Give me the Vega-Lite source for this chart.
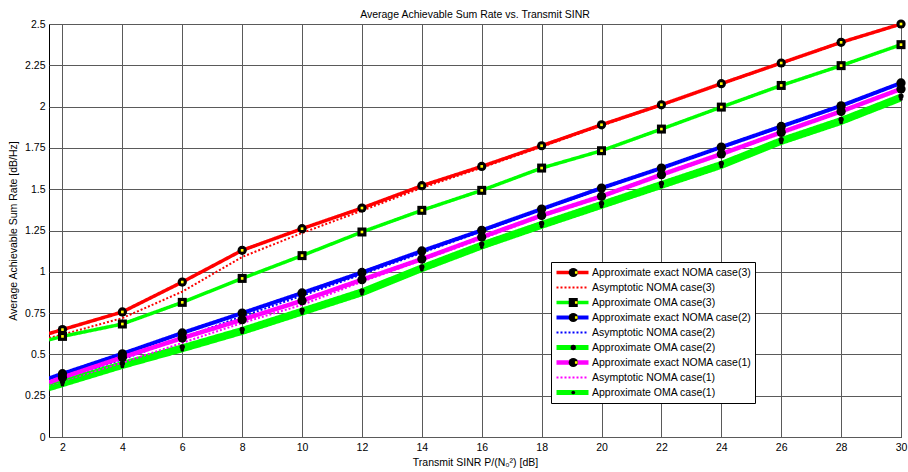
{
"$schema": "https://vega.github.io/schema/vega-lite/v6.json",
"width": 852, "height": 413,
"autosize": {"type": "none"},
"padding": {"left": 49, "top": 24, "right": 7, "bottom": 35},
"title": {"text": "Average Achievable Sum Rate vs. Transmit SINR", "fontSize": 10.5, "fontWeight": "normal", "font": "Liberation Sans", "offset": -1, "frame": "group", "color": "black"},
"datasets": {"rates": [
{"snr":1.55,"series":"Approximate exact NOMA case(3)","rate":0.626},{"snr":2,"series":"Approximate exact NOMA case(3)","rate":0.65},{"snr":4,"series":"Approximate exact NOMA case(3)","rate":0.757},{"snr":6,"series":"Approximate exact NOMA case(3)","rate":0.938},{"snr":8,"series":"Approximate exact NOMA case(3)","rate":1.13},{"snr":10,"series":"Approximate exact NOMA case(3)","rate":1.261},{"snr":12,"series":"Approximate exact NOMA case(3)","rate":1.386},{"snr":14,"series":"Approximate exact NOMA case(3)","rate":1.521},{"snr":16,"series":"Approximate exact NOMA case(3)","rate":1.638},{"snr":18,"series":"Approximate exact NOMA case(3)","rate":1.763},{"snr":20,"series":"Approximate exact NOMA case(3)","rate":1.89},{"snr":22,"series":"Approximate exact NOMA case(3)","rate":2.011},{"snr":24,"series":"Approximate exact NOMA case(3)","rate":2.139},{"snr":26,"series":"Approximate exact NOMA case(3)","rate":2.264},{"snr":28,"series":"Approximate exact NOMA case(3)","rate":2.389},{"snr":30,"series":"Approximate exact NOMA case(3)","rate":2.5},
{"snr":1.55,"series":"Asymptotic NOMA case(3)","rate":0.6},{"snr":2,"series":"Asymptotic NOMA case(3)","rate":0.62},{"snr":4,"series":"Asymptotic NOMA case(3)","rate":0.72},{"snr":6,"series":"Asymptotic NOMA case(3)","rate":0.88},{"snr":8,"series":"Asymptotic NOMA case(3)","rate":1.09},{"snr":10,"series":"Asymptotic NOMA case(3)","rate":1.235},{"snr":12,"series":"Asymptotic NOMA case(3)","rate":1.37},{"snr":14,"series":"Asymptotic NOMA case(3)","rate":1.508},{"snr":16,"series":"Asymptotic NOMA case(3)","rate":1.63},{"snr":18,"series":"Asymptotic NOMA case(3)","rate":1.757},{"snr":20,"series":"Asymptotic NOMA case(3)","rate":1.885},{"snr":22,"series":"Asymptotic NOMA case(3)","rate":2.008},{"snr":24,"series":"Asymptotic NOMA case(3)","rate":2.136},{"snr":26,"series":"Asymptotic NOMA case(3)","rate":2.262},{"snr":28,"series":"Asymptotic NOMA case(3)","rate":2.387},{"snr":30,"series":"Asymptotic NOMA case(3)","rate":2.5},
{"snr":1.55,"series":"Approximate OMA case(3)","rate":0.588},{"snr":2,"series":"Approximate OMA case(3)","rate":0.609},{"snr":4,"series":"Approximate OMA case(3)","rate":0.684},{"snr":6,"series":"Approximate OMA case(3)","rate":0.815},{"snr":8,"series":"Approximate OMA case(3)","rate":0.96},{"snr":10,"series":"Approximate OMA case(3)","rate":1.098},{"snr":12,"series":"Approximate OMA case(3)","rate":1.241},{"snr":14,"series":"Approximate OMA case(3)","rate":1.372},{"snr":16,"series":"Approximate OMA case(3)","rate":1.493},{"snr":18,"series":"Approximate OMA case(3)","rate":1.628},{"snr":20,"series":"Approximate OMA case(3)","rate":1.733},{"snr":22,"series":"Approximate OMA case(3)","rate":1.864},{"snr":24,"series":"Approximate OMA case(3)","rate":1.997},{"snr":26,"series":"Approximate OMA case(3)","rate":2.128},{"snr":28,"series":"Approximate OMA case(3)","rate":2.248},{"snr":30,"series":"Approximate OMA case(3)","rate":2.375},
{"snr":1.55,"series":"Approximate exact NOMA case(2)","rate":0.355},{"snr":2,"series":"Approximate exact NOMA case(2)","rate":0.383},{"snr":4,"series":"Approximate exact NOMA case(2)","rate":0.504},{"snr":6,"series":"Approximate exact NOMA case(2)","rate":0.63},{"snr":8,"series":"Approximate exact NOMA case(2)","rate":0.75},{"snr":10,"series":"Approximate exact NOMA case(2)","rate":0.872},{"snr":12,"series":"Approximate exact NOMA case(2)","rate":0.996},{"snr":14,"series":"Approximate exact NOMA case(2)","rate":1.126},{"snr":16,"series":"Approximate exact NOMA case(2)","rate":1.251},{"snr":18,"series":"Approximate exact NOMA case(2)","rate":1.38},{"snr":20,"series":"Approximate exact NOMA case(2)","rate":1.507},{"snr":22,"series":"Approximate exact NOMA case(2)","rate":1.628},{"snr":24,"series":"Approximate exact NOMA case(2)","rate":1.755},{"snr":26,"series":"Approximate exact NOMA case(2)","rate":1.88},{"snr":28,"series":"Approximate exact NOMA case(2)","rate":2.005},{"snr":30,"series":"Approximate exact NOMA case(2)","rate":2.143},
{"snr":1.55,"series":"Asymptotic NOMA case(2)","rate":0.323},{"snr":2,"series":"Asymptotic NOMA case(2)","rate":0.35},{"snr":4,"series":"Asymptotic NOMA case(2)","rate":0.47},{"snr":6,"series":"Asymptotic NOMA case(2)","rate":0.6},{"snr":8,"series":"Asymptotic NOMA case(2)","rate":0.73},{"snr":10,"series":"Asymptotic NOMA case(2)","rate":0.855},{"snr":12,"series":"Asymptotic NOMA case(2)","rate":0.985},{"snr":14,"series":"Asymptotic NOMA case(2)","rate":1.115},{"snr":16,"series":"Asymptotic NOMA case(2)","rate":1.245},{"snr":18,"series":"Asymptotic NOMA case(2)","rate":1.375},{"snr":20,"series":"Asymptotic NOMA case(2)","rate":1.503},{"snr":22,"series":"Asymptotic NOMA case(2)","rate":1.627},{"snr":24,"series":"Asymptotic NOMA case(2)","rate":1.753},{"snr":26,"series":"Asymptotic NOMA case(2)","rate":1.878},{"snr":28,"series":"Asymptotic NOMA case(2)","rate":2.004},{"snr":30,"series":"Asymptotic NOMA case(2)","rate":2.14},
{"snr":1.55,"series":"Approximate OMA case(2)","rate":0.31},{"snr":2,"series":"Approximate OMA case(2)","rate":0.335},{"snr":4,"series":"Approximate OMA case(2)","rate":0.445},{"snr":6,"series":"Approximate OMA case(2)","rate":0.546},{"snr":8,"series":"Approximate OMA case(2)","rate":0.651},{"snr":10,"series":"Approximate OMA case(2)","rate":0.768},{"snr":12,"series":"Approximate OMA case(2)","rate":0.885},{"snr":14,"series":"Approximate OMA case(2)","rate":1.03},{"snr":16,"series":"Approximate OMA case(2)","rate":1.168},{"snr":18,"series":"Approximate OMA case(2)","rate":1.293},{"snr":20,"series":"Approximate OMA case(2)","rate":1.414},{"snr":22,"series":"Approximate OMA case(2)","rate":1.535},{"snr":24,"series":"Approximate OMA case(2)","rate":1.656},{"snr":26,"series":"Approximate OMA case(2)","rate":1.8},{"snr":28,"series":"Approximate OMA case(2)","rate":1.922},{"snr":30,"series":"Approximate OMA case(2)","rate":2.064},
{"snr":1.55,"series":"Approximate exact NOMA case(1)","rate":0.33},{"snr":2,"series":"Approximate exact NOMA case(1)","rate":0.36},{"snr":4,"series":"Approximate exact NOMA case(1)","rate":0.482},{"snr":6,"series":"Approximate exact NOMA case(1)","rate":0.599},{"snr":8,"series":"Approximate exact NOMA case(1)","rate":0.71},{"snr":10,"series":"Approximate exact NOMA case(1)","rate":0.825},{"snr":12,"series":"Approximate exact NOMA case(1)","rate":0.952},{"snr":14,"series":"Approximate exact NOMA case(1)","rate":1.077},{"snr":16,"series":"Approximate exact NOMA case(1)","rate":1.21},{"snr":18,"series":"Approximate exact NOMA case(1)","rate":1.341},{"snr":20,"series":"Approximate exact NOMA case(1)","rate":1.457},{"snr":22,"series":"Approximate exact NOMA case(1)","rate":1.588},{"snr":24,"series":"Approximate exact NOMA case(1)","rate":1.713},{"snr":26,"series":"Approximate exact NOMA case(1)","rate":1.844},{"snr":28,"series":"Approximate exact NOMA case(1)","rate":1.971},{"snr":30,"series":"Approximate exact NOMA case(1)","rate":2.107},
{"snr":1.55,"series":"Asymptotic NOMA case(1)","rate":0.303},{"snr":2,"series":"Asymptotic NOMA case(1)","rate":0.33},{"snr":4,"series":"Asymptotic NOMA case(1)","rate":0.45},{"snr":6,"series":"Asymptotic NOMA case(1)","rate":0.57},{"snr":8,"series":"Asymptotic NOMA case(1)","rate":0.69},{"snr":10,"series":"Asymptotic NOMA case(1)","rate":0.8},{"snr":12,"series":"Asymptotic NOMA case(1)","rate":0.94},{"snr":14,"series":"Asymptotic NOMA case(1)","rate":1.07},{"snr":16,"series":"Asymptotic NOMA case(1)","rate":1.2},{"snr":18,"series":"Asymptotic NOMA case(1)","rate":1.335},{"snr":20,"series":"Asymptotic NOMA case(1)","rate":1.453},{"snr":22,"series":"Asymptotic NOMA case(1)","rate":1.585},{"snr":24,"series":"Asymptotic NOMA case(1)","rate":1.71},{"snr":26,"series":"Asymptotic NOMA case(1)","rate":1.842},{"snr":28,"series":"Asymptotic NOMA case(1)","rate":1.97},{"snr":30,"series":"Asymptotic NOMA case(1)","rate":2.105},
{"snr":1.55,"series":"Approximate OMA case(1)","rate":0.292},{"snr":2,"series":"Approximate OMA case(1)","rate":0.317},{"snr":4,"series":"Approximate OMA case(1)","rate":0.427},{"snr":6,"series":"Approximate OMA case(1)","rate":0.528},{"snr":8,"series":"Approximate OMA case(1)","rate":0.633},{"snr":10,"series":"Approximate OMA case(1)","rate":0.75},{"snr":12,"series":"Approximate OMA case(1)","rate":0.867},{"snr":14,"series":"Approximate OMA case(1)","rate":1.013},{"snr":16,"series":"Approximate OMA case(1)","rate":1.15},{"snr":18,"series":"Approximate OMA case(1)","rate":1.275},{"snr":20,"series":"Approximate OMA case(1)","rate":1.396},{"snr":22,"series":"Approximate OMA case(1)","rate":1.517},{"snr":24,"series":"Approximate OMA case(1)","rate":1.638},{"snr":26,"series":"Approximate OMA case(1)","rate":1.783},{"snr":28,"series":"Approximate OMA case(1)","rate":1.904},{"snr":30,"series":"Approximate OMA case(1)","rate":2.046}
]},
"data": {"name": "rates"},
"encoding": {
  "x": {"field": "snr", "type": "quantitative", "scale": {"domain": [1.55, 30], "nice": false, "zero": false},
        "axis": {"values": [2,4,6,8,10,12,14,16,18,20,22,24,26,28,30], "title": "Transmit SINR P/(N₀²) [dB]", "labelPadding": 5, "titlePadding": 5, "labelFlush": false}},
  "y": {"field": "rate", "type": "quantitative", "scale": {"domain": [0, 2.5], "nice": false},
        "axis": {"values": [0,0.25,0.5,0.75,1,1.25,1.5,1.75,2,2.25,2.5], "format": ".3~g", "title": "Average Achievable Sum Rate [dB/Hz]", "labelPadding": 4, "titlePadding": 6, "labelFlush": false}}
},
"layer": [
  {"mark": {"type": "line", "clip": true},
   "encoding": {
     "color": {"field": "series", "type": "nominal",
       "scale": {"domain": ["Approximate exact NOMA case(3)","Asymptotic NOMA case(3)","Approximate OMA case(3)","Approximate exact NOMA case(2)","Asymptotic NOMA case(2)","Approximate OMA case(2)","Approximate exact NOMA case(1)","Asymptotic NOMA case(1)","Approximate OMA case(1)"],
                 "range": ["#ff0000","#ff0000","#00ff00","#0000ff","#0000ff","#00ff00","#ff00ff","#ff00ff","#00ff00"]},
       "legend": {"orient": "none", "legendX": 502, "legendY": 238, "title": null, "padding": 3, "clipHeight": 15, "rowPadding": 0, "symbolType": "stroke", "symbolSize": 1024, "labelFontSize": 10.5, "labelFont": "Liberation Sans", "labelColor": "black", "labelOffset": 1, "labelLimit": 300, "fillColor": "white", "strokeColor": "black", "symbolOpacity": 1}},
     "strokeDash": {"field": "series", "type": "nominal",
       "scale": {"domain": ["Approximate exact NOMA case(3)","Asymptotic NOMA case(3)","Approximate OMA case(3)","Approximate exact NOMA case(2)","Asymptotic NOMA case(2)","Approximate OMA case(2)","Approximate exact NOMA case(1)","Asymptotic NOMA case(1)","Approximate OMA case(1)"],
                 "range": [[1,0],[2,2],[1,0],[1,0],[2,2],[1,0],[1,0],[2,2],[1,0]]}},
     "strokeWidth": {"field": "series", "type": "nominal",
       "scale": {"type": "ordinal", "domain": ["Approximate exact NOMA case(3)","Asymptotic NOMA case(3)","Approximate OMA case(3)","Approximate exact NOMA case(2)","Asymptotic NOMA case(2)","Approximate OMA case(2)","Approximate exact NOMA case(1)","Asymptotic NOMA case(1)","Approximate OMA case(1)"],
                 "range": [3.5,2,3.5,4,2,5,4.5,2,5]}}
   }},
  {"transform": [{"filter": "datum.snr >= 2 && indexof(datum.series, 'Asymptotic') < 0"}, {"calculate": "datum.series", "as": "mk"}],
   "mark": {"type": "point", "filled": true, "opacity": 1, "fill": "black", "strokeWidth": 0},
   "encoding": {
     "shape": {"field": "mk", "type": "nominal",
       "scale": {"domain": ["Approximate exact NOMA case(3)","Asymptotic NOMA case(3)","Approximate OMA case(3)","Approximate exact NOMA case(2)","Asymptotic NOMA case(2)","Approximate OMA case(2)","Approximate exact NOMA case(1)","Asymptotic NOMA case(1)","Approximate OMA case(1)"],
                 "range": ["circle","circle","square","circle","circle","circle","circle","circle","circle"]},
       "legend": {"orient": "none", "legendX": 502, "legendY": 238, "title": null, "padding": 3, "clipHeight": 15, "rowPadding": 0, "labelFontSize": 10.5, "labelFont": "Liberation Sans", "labelExpr": "''", "labelOffset": 1, "symbolOffset": 14, "symbolFillColor": "black", "symbolStrokeWidth": 0, "symbolOpacity": 1, "fillColor": null, "strokeColor": null}},
     "size": {"field": "mk", "type": "nominal",
       "scale": {"type": "ordinal", "domain": ["Approximate exact NOMA case(3)","Asymptotic NOMA case(3)","Approximate OMA case(3)","Approximate exact NOMA case(2)","Asymptotic NOMA case(2)","Approximate OMA case(2)","Approximate exact NOMA case(1)","Asymptotic NOMA case(1)","Approximate OMA case(1)"],
                 "range": [85,0,81,85,0,28,85,0,14]}}
   }},
  {"transform": [{"filter": "datum.snr >= 2 && indexof(datum.series, 'Asymptotic') < 0 && indexof(datum.series, 'OMA case(1)') < 0 && indexof(datum.series, 'OMA case(2)') < 0"}, {"calculate": "datum.series", "as": "mk2"}],
   "mark": {"type": "point", "filled": true, "opacity": 1, "fill": "#ffff00", "strokeWidth": 0},
   "encoding": {
     "shape": {"field": "mk2", "type": "nominal",
       "scale": {"domain": ["Approximate exact NOMA case(3)","Asymptotic NOMA case(3)","Approximate OMA case(3)","Approximate exact NOMA case(2)","Asymptotic NOMA case(2)","Approximate OMA case(2)","Approximate exact NOMA case(1)","Asymptotic NOMA case(1)","Approximate OMA case(1)"],
                 "range": ["square","square","square","square","square","square","square","square","square"]},
       "legend": {"orient": "none", "legendX": 502, "legendY": 238, "title": null, "padding": 3, "clipHeight": 15, "rowPadding": 0, "labelFontSize": 10.5, "labelFont": "Liberation Sans", "labelExpr": "''", "labelOffset": 1, "symbolOffset": 17, "symbolFillColor": "#ffff00", "symbolStrokeWidth": 0, "symbolOpacity": 1, "fillColor": null, "strokeColor": null}},
     "size": {"field": "mk2", "type": "nominal",
       "scale": {"type": "ordinal", "domain": ["Approximate exact NOMA case(3)","Asymptotic NOMA case(3)","Approximate OMA case(3)","Approximate exact NOMA case(2)","Asymptotic NOMA case(2)","Approximate OMA case(2)","Approximate exact NOMA case(1)","Asymptotic NOMA case(1)","Approximate OMA case(1)"],
                 "range": [7,0,7,7,0,0,7,0,0]}}
   }}
],
"resolve": {"scale": {"shape": "independent", "size": "independent"}},
"config": {
  "font": "Liberation Sans",
  "view": {"stroke": "black", "strokeWidth": 1},
  "axis": {"gridColor": "#5a5a5a", "gridOpacity": 1, "gridWidth": 1, "domain": false, "ticks": false, "labelFontSize": 10.5, "labelColor": "black", "titleFontSize": 10.5, "titleFontWeight": "normal", "titleColor": "black", "labelFont": "Liberation Sans", "titleFont": "Liberation Sans"}
}
}
